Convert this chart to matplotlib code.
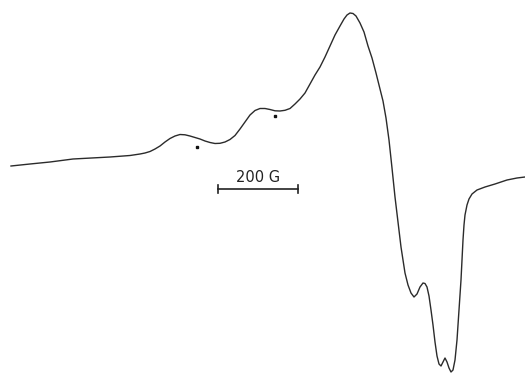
import matplotlib
matplotlib.use("Agg")
import matplotlib.pyplot as plt

# Spectrum trace (field position, signal) (pixel-like units)
field = [11, 30, 50, 73, 110, 130, 140, 145, 150, 155, 160, 165, 170, 175, 180, 185, 190,
         195, 200, 205, 210, 215, 220, 225, 230, 235, 240, 245, 250, 255, 260, 265, 270,
         275, 280, 285, 290, 295, 300, 305, 310, 315, 320, 325, 330, 335, 340, 344, 347,
         350, 353, 356, 360, 364, 368, 372, 376, 380, 383, 386, 389, 392, 395, 398, 401,
         405, 408, 411, 414, 417, 420, 423, 425, 427, 429, 431, 433, 435, 437, 439, 441,
         443, 445, 447, 449, 451, 453, 455, 457, 459, 461, 462, 463, 464, 465, 467, 469,
         472, 477, 485, 495, 507, 517, 525]
signal = [166, 164, 162, 159, 157, 155.5, 154, 153, 151.5, 149, 146, 142, 138.5, 136, 134.5, 134.8, 136,
          137.5, 139, 141, 142.5, 143.5, 143.3, 142, 139.5, 135.5, 129, 122, 115, 110.5, 108.5, 108.5, 109.5,
          110.8, 111, 110.3, 108.5, 104, 99, 93, 84, 75, 67, 57, 46, 35, 26, 19, 15,
          13, 13.5, 16, 23, 32, 46, 58, 73, 89, 101, 118, 140, 168, 197, 222, 247,
          273, 285, 293, 297, 294, 287, 283, 283.5, 287, 296, 310, 325, 342, 356, 364, 366,
          362, 358, 362, 368, 372, 370, 360, 340, 310, 280, 260, 240, 225, 215, 205, 199,
          194, 190, 187, 184, 180, 178, 177]

# Marker dots
dot_x = [197, 275]
dot_y = [147, 116]

# Scale bar
bar_x = [218, 298]
bar_y = 189
bar_label = "200 G"

fig = plt.figure(figsize=(5.25, 3.73), dpi=100)
ax = fig.add_axes([0, 0, 1, 1])
ax.set_xlim(0, 525)
ax.set_ylim(373, 0)
ax.axis("off")

ax.plot(field, signal, color="#2b2b2b", lw=1.0, solid_joinstyle="round")
ax.plot(dot_x, dot_y, ls="none", marker="s", ms=1.6, color="#111111")

ax.plot(bar_x, [bar_y, bar_y], color="#222222", lw=1.2)
for bx in bar_x:
    ax.plot([bx, bx], [bar_y - 4, bar_y + 4], color="#222222", lw=1.2)
ax.text(sum(bar_x) / 2, bar_y - 4, bar_label, ha="center", va="bottom",
        fontsize=10.5, color="#222222", family="DejaVu Sans")

fig.savefig("out.png", dpi=100)
